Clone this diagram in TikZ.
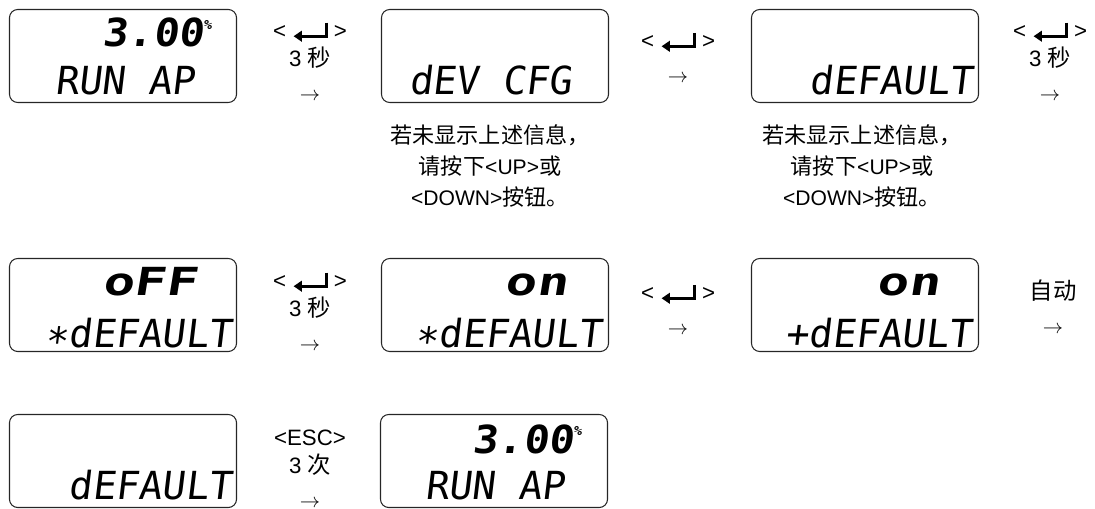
\documentclass[tikz,border=0pt]{standalone}
\usepackage{fontspec}
\usepackage{tikz}
\usetikzlibrary{arrows.meta,positioning}
\setmainfont{Liberation Sans}
\newfontfamily\cjk[Scale=1.05]{Noto Sans CJK SC}
\newfontfamily\lcdfont[FakeSlant=0.12]{DejaVu Sans Mono}
\newcommand\entersym{\tikz[baseline=0pt,x=1pt,y=1pt]{%
  \draw[line width=2.4pt,-{Triangle[length=7pt,width=9pt]}] (28,13.5) -- (28,2) -- (0,2);}}
\newcommand\pct{\raisebox{15pt}{\fontsize{11}{11}\selectfont\%}}
\tikzset{
  lcd/.style={draw=black!85,line width=0.9pt,rounded corners=7pt,
              minimum width=6.81cm,minimum height=2.79cm,inner sep=0pt},
  lcdlo/.style={font=\lcdfont\fontsize{33}{33}\selectfont,inner sep=0pt},
  lcdhi/.style={font=\lcdfont\bfseries\fontsize{33}{33}\selectfont,inner sep=0pt},
  keylbl/.style={align=center,inner sep=0pt,font=\fontsize{19}{24}\selectfont},
  hint/.style={align=center,inner sep=0pt,font=\fontsize{18}{26.5}\selectfont},
}

\begin{document}
\begin{tikzpicture}[x=0.03cm,y=-0.03cm]
  \useasboundingbox (0,0) rectangle (1095,509);
  % display frames
  \foreach \n/\x/\y in {s1/123/56,s2/495/56,s3/865/56,
                        s4/123/305,s5/495/305,s6/865/305,
                        s7/123/461,s8/494/461}
    {\node[lcd] (\n) at (\x,\y) {};}
  % row 1
  \node[lcdhi,anchor=base east,xscale=1.08] (s1hi) at (212,47) {3.00\pct};
  \node[lcdlo,anchor=base west] (s1lo) at (55,95) {RUN AP};
  \node[lcdlo,anchor=base west] (s2lo) at (409,95) {dEV CFG};
  \node[lcdlo,anchor=base east] (s3lo) at (973,95) {dEFAULT};
  % row 2
  \node[lcdhi,anchor=base east,xscale=1.35] (s4hi) at (197,295) {oFF};
  \node[lcdlo,anchor=base east] (s4lo) at (232,347) {∗dEFAULT};
  \node[lcdhi,anchor=base east,xscale=1.35] (s5hi) at (568,295) {on};
  \node[lcdlo,anchor=base east] (s5lo) at (602,347) {∗dEFAULT};
  \node[lcdhi,anchor=base east,xscale=1.35] (s6hi) at (940,295) {on};
  \node[lcdlo,anchor=base east] (s6lo) at (972,347) {+dEFAULT};
  % row 3
  \node[lcdlo,anchor=base east] (s7lo) at (232,499) {dEFAULT};
  \node[lcdhi,anchor=base east,xscale=1.08] (s8hi) at (582,453) {3.00\pct};
  \node[lcdlo,anchor=base west] (s8lo) at (425,499) {RUN AP};
  % key presses
  \node[keylbl] (k1) at (310,61) {< \entersym{} >\\3 {\cjk 秒}\\[5pt]$\rightarrow$};
  \node[keylbl] (k2) at (678,57) {< \entersym{} >\\[5pt]$\rightarrow$};
  \node[keylbl] (k3) at (1050,61) {< \entersym{} >\\3 {\cjk 秒}\\[5pt]$\rightarrow$};
  \node[keylbl] (k4) at (310,311) {< \entersym{} >\\3 {\cjk 秒}\\[5pt]$\rightarrow$};
  \node[keylbl] (k5) at (678,309) {< \entersym{} >\\[5pt]$\rightarrow$};
  \node[keylbl] (k6) at (1053,307) {{\cjk 自动}\\[5pt]$\rightarrow$};
  \node[keylbl] (k7) at (310,469) {<ESC>\\3 {\cjk 次}\\[5pt]$\rightarrow$};
  % hints
  \foreach \n/\x in {h2/490,h3/862}
    {\node[hint] (\n) at (\x,166) {{\cjk 若未显示上述信息，}\\{\cjk 请按下}<UP>{\cjk 或}\\<DOWN>{\cjk 按钮。}};}
\end{tikzpicture}
\end{document}
